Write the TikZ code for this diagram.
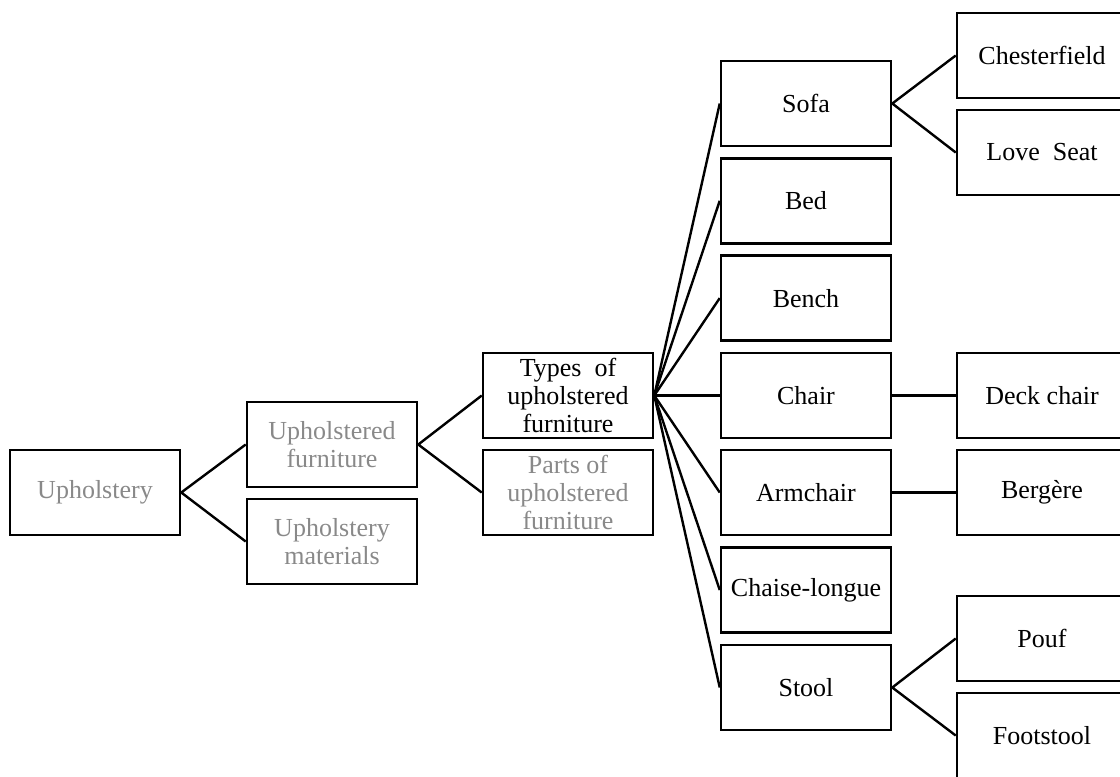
\documentclass[tikz,border=0pt]{standalone}
\usepackage{fontspec}
\setmainfont{Liberation Serif}
\definecolor{dimtext}{RGB}{137,137,137}
\tikzset{
  box/.style={draw=black, line width=1.9pt, rectangle, minimum width=127.5pt,
    minimum height=63.75pt, inner sep=0pt, align=center,
    font=\fontsize{19.5}{21}\selectfont, text=black},
  dimbox/.style={box, text=dimtext},
  link/.style={draw=black, line width=1.8pt}
}
\begin{document}
\begin{tikzpicture}[x=0.75pt,y=-0.75pt]
\useasboundingbox (0,0) rectangle (1120,776);
\clip (0,0) rectangle (1120,776);
% root and first level
\node[dimbox] (uph) at (95,492.5) {Upholstery};
\node[dimbox] (uf) at (332,444.5) {Upholstered\\furniture};
\node[dimbox] (um) at (332,541.5) {Upholstery\\materials};
% second level
\node[box] (types) at (568,395.5) {Types \ of\\upholstered\\furniture};
\node[dimbox] (parts) at (568,492.5) {Parts of\\upholstered\\furniture};
% kinds of furniture
\node[box] (sofa) at (806,103.5) {Sofa};
\node[box] (bed) at (806,200.8) {Bed};
\node[box] (bench) at (806,298.1) {Bench};
\node[box] (chair) at (806,395.5) {Chair};
\node[box] (arm) at (806,492.5) {Armchair};
\node[box] (chaise) at (806,590) {Chaise-longue};
\node[box] (stool) at (806,687.5) {Stool};
% sub-kinds
\node[box] (chest) at (1042,55.5) {Chesterfield};
\node[box] (love) at (1042,152.5) {Love \ Seat};
\node[box] (deck) at (1042,395.5) {Deck chair};
\node[box] (berg) at (1042,492.5) {Bergère};
\node[box] (pouf) at (1042,638.5) {Pouf};
\node[box] (foot) at (1042,735.5) {Footstool};
% connectors
\draw[link] (uf.west) -- (uph.east) -- (um.west);
\draw[link] (types.west) -- (uf.east) -- (parts.west);
\foreach \n in {sofa,bed,bench,chair,arm,chaise,stool}
  \draw[link] (types.east) -- (\n.west);
\draw[link] (chest.west) -- (sofa.east) -- (love.west);
\draw[link] (chair.east) -- (deck.west);
\draw[link] (arm.east) -- (berg.west);
\draw[link] (pouf.west) -- (stool.east) -- (foot.west);
\end{tikzpicture}
\end{document}
